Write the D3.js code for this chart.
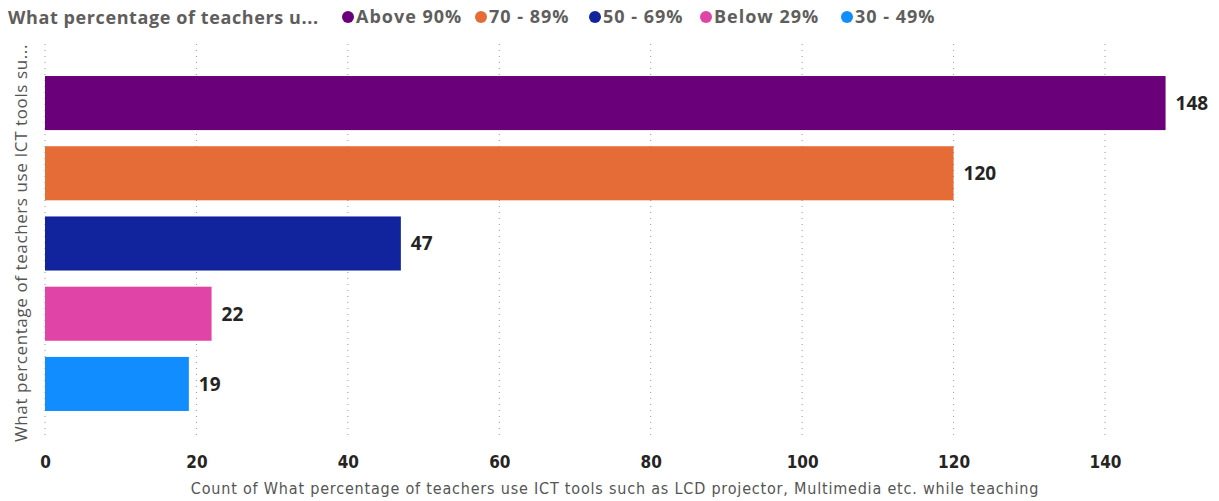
<!DOCTYPE html>
<html>
<head>
<meta charset="utf-8">
<script src="https://cdn.jsdelivr.net/npm/d3@7"></script>
<style>
  body { margin: 0; background: #fff; }
</style>
</head>
<body>
<script>
// data
var categories = ["Above 90%", "70 - 89%", "50 - 69%", "Below 29%", "30 - 49%"]
var counts = [148, 120, 47, 22, 19]
var colors = ["#6B007B", "#E66C37", "#12239E", "#E044A7", "#118DFF"]
var xTicks = [0, 20, 40, 60, 80, 100, 120, 140]

var legendTitle = "What percentage of teachers u..."
var yTitle = "What percentage of teachers use ICT tools su..."
var xTitle = "Count of What percentage of teachers use ICT tools such as LCD projector, Multimedia etc. while teaching"

var W = 1219, H = 501

var svg = d3.select("body").append("svg").attr("width", W).attr("height", H)

var x = d3.scaleLinear().domain([0, 140]).range([45, 1105])
var y = d3.scaleBand().domain(categories).range([69, 418]).paddingInner(0.23).paddingOuter(0.1)

// gridlines
svg.append("g").selectAll("line")
  .data(xTicks)
  .join("line")
  .attr("x1", function(d) { return x(d) })
  .attr("x2", function(d) { return x(d) })
  .attr("y1", 44)
  .attr("y2", 440)
  .attr("stroke", "#999")
  .attr("stroke-width", 1)
  .attr("stroke-dasharray", "1,5")

// bars
svg.append("g").selectAll("rect")
  .data(categories)
  .join("rect")
  .attr("x", x(0))
  .attr("y", function(d) { return y(d) })
  .attr("width", function(d, i) { return x(counts[i]) - x(0) })
  .attr("height", y.bandwidth())
  .attr("fill", function(d, i) { return colors[i] })

// value labels
svg.append("g").selectAll("text")
  .data(categories)
  .join("text")
  .attr("x", function(d, i) { return x(counts[i]) + 10 })
  .attr("y", function(d) { return y(d) + y.bandwidth() / 2 })
  .attr("dy", "0.36em")
  .attr("font-family", "Open Sans, sans-serif")
  .attr("font-weight", "bold")
  .attr("font-size", 19)
  .attr("fill", "#252423")
  .text(function(d, i) { return counts[i] })

// x axis
var xAxis = d3.axisBottom(x).tickValues(xTicks).tickSize(0).tickPadding(0)
var gx = svg.append("g").attr("transform", "translate(0,462)").call(xAxis)
gx.select(".domain").remove()
gx.selectAll("text")
  .attr("font-family", "DejaVu Sans Condensed, DejaVu Sans, sans-serif")
  .attr("font-weight", "bold")
  .attr("font-size", 17)
  .attr("fill", "#252423")
  .attr("dy", "0.35em")

svg.append("text")
  .attr("x", 615)
  .attr("y", 494)
  .attr("text-anchor", "middle")
  .attr("font-family", "DejaVu Sans Condensed, DejaVu Sans, sans-serif")
  .attr("font-size", 16)
  .attr("letter-spacing", 0.8)
  .attr("fill", "#555")
  .text(xTitle)

// y title
svg.append("text")
  .attr("transform", "translate(27,243) rotate(-90)")
  .attr("text-anchor", "middle")
  .attr("font-family", "Open Sans, sans-serif")
  .attr("font-size", 17)
  .attr("letter-spacing", 0.6)
  .attr("fill", "#555")
  .text(yTitle)

// legend
svg.append("text")
  .attr("x", 8)
  .attr("y", 24)
  .attr("font-family", "Open Sans, sans-serif")
  .attr("font-weight", "bold")
  .attr("font-size", 18)
  .attr("letter-spacing", 0.6)
  .attr("fill", "#605E5C")
  .text(legendTitle)

var legendX = [348, 481, 595, 706, 847]
var lg = svg.append("g").selectAll("g")
  .data(categories)
  .join("g")
  .attr("transform", function(d, i) { return "translate(" + legendX[i] + ",17)" })
lg.append("circle")
  .attr("r", 6)
  .attr("fill", function(d, i) { return colors[i] })
lg.append("text")
  .attr("x", 8)
  .attr("dy", "0.36em")
  .attr("font-family", "Open Sans, sans-serif")
  .attr("font-weight", "bold")
  .attr("font-size", 18)
  .attr("letter-spacing", 1)
  .attr("fill", "#605E5C")
  .text(function(d) { return d })
</script>
</body>
</html>
